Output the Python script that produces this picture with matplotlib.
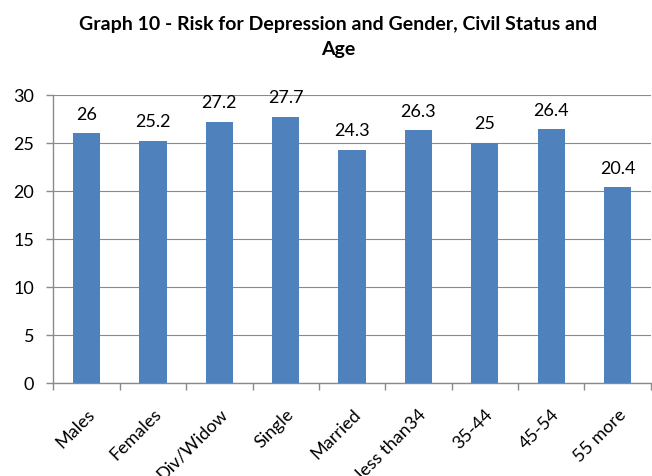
import numpy as np
import matplotlib.pyplot as plt

categories = ['Males', 'Females', 'Div/Widow', 'Single', 'Married',
              'less than34', '35-44', '45-54', '55 more']
values = [26, 25.2, 27.2, 27.7, 24.3, 26.3, 25, 26.4, 20.4]
labels = ['26', '25.2', '27.2', '27.7', '24.3', '26.3', '25', '26.4', '20.4']

plt.rcParams['font.family'] = ['Lato', 'DejaVu Sans']

fig = plt.figure(figsize=(6.52, 4.77), dpi=100)
ax = fig.add_axes([0.082, 0.195, 0.916, 0.604])

x = np.arange(len(categories))
ax.bar(x, values, width=0.41, color='#4F81BD', zorder=3)

for xi, v, t in zip(x, values, labels):
    ax.text(xi, v + 1.2, t, ha='center', va='bottom', fontsize=13, color='black')

ax.set_xlim(-0.5, len(categories) - 0.5)
ax.set_ylim(0, 30)
ax.set_yticks(range(0, 31, 5))
ax.yaxis.grid(True, color='#8a8a8a', linewidth=0.8, zorder=0)

ax.set_xticks(x)
ax.set_xticklabels(categories, rotation=45, ha='right', rotation_mode='anchor',
                   fontsize=13)
ax.tick_params(axis='x', length=0, pad=16)
ax.set_xticks(np.arange(-0.5, len(categories), 1), minor=True)
ax.tick_params(axis='x', which='minor', length=5, color='#8a8a8a', width=1)
ax.tick_params(axis='y', length=5, color='#8a8a8a', width=1, labelsize=13, pad=9)

for s in ['top', 'right']:
    ax.spines[s].set_visible(False)
for s in ['left', 'bottom']:
    ax.spines[s].set_color('#8a8a8a')
    ax.spines[s].set_linewidth(1)

fig.text(0.518, 0.967, 'Graph 10 - Risk for Depression and Gender, Civil Status and\nAge',
         ha='center', va='top', fontsize=14, fontweight='bold', linespacing=1.6)

fig.savefig('out.png', dpi=100)
